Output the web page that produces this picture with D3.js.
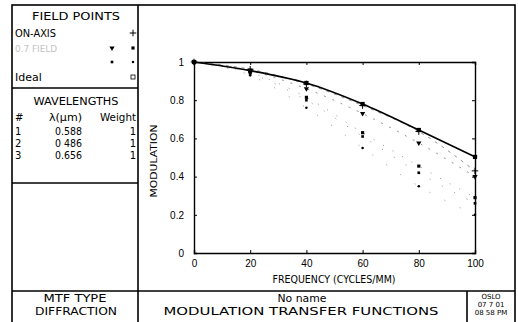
<!DOCTYPE html>
<html>
<head>
<meta charset="utf-8">
<script src="https://cdn.jsdelivr.net/npm/d3@7"></script>
<style>
  body { margin: 0; background: #fff; }
  svg { display: block; font-family: "DejaVu Sans", "Liberation Sans", sans-serif; }
  .frame { fill: none; stroke: #000; stroke-width: 1.6; }
</style>
</head>
<body>
<div id="chart"></div>
<script>
// frequency samples (cycles/mm)
const frequencies = [0, 20, 40, 60, 80, 100]
const xTicks = [0, 20, 40, 60, 80, 100]
const yTicks = [0, 0.2, 0.4, 0.6, 0.8, 1]

// MTF values
const idealMtf = [1, 0.955, 0.89, 0.78, 0.644, 0.503]
const onAxisMtf = [1, 0.962, 0.885, 0.772, 0.636, 0.43]
const field2TanMtf = [1, 0.955, 0.86, 0.73, 0.576, 0.40]
const field2SagMtf = [1, 0.945, 0.815, 0.63, 0.455, 0.29]
const field3TanMtf = [1, 0.94, 0.80, 0.61, 0.42, 0.26]
const field3SagMtf = [1, 0.93, 0.76, 0.55, 0.35, 0.20]

// legend / info panel texts
const fieldLabels = ['ON-AXIS', '0.7 FIELD', '', 'Ideal']
const waveIds = ['1', '2', '3']
const waveLengths = ['0.588', '0 486', '0.656']
const waveWeights = ['1', '1', '1']

const W = 518, H = 322
const svg = d3.select('#chart').append('svg')
  .attr('width', W)
  .attr('height', H)
svg.append('rect').attr('width', W).attr('height', H).attr('fill', '#fff')

// helper: text stretched to the width measured on the reference
function label(g, xPos, yPos, txt, size, len, anchor) {
  const t = g.append('text').attr('x', xPos).attr('y', yPos)
    .attr('font-size', size).attr('text-anchor', anchor || 'start').text(txt)
  if (len) t.attr('textLength', len).attr('lengthAdjust', 'spacingAndGlyphs')
  return t
}

// --- frames ---
const frame = svg.append('g').attr('class', 'frame')
frame.append('rect').attr('x', 12).attr('y', 5).attr('width', 503).attr('height', 320)
frame.append('line').attr('x1', 138).attr('y1', 5).attr('x2', 138).attr('y2', 322)
frame.append('line').attr('x1', 12).attr('y1', 88).attr('x2', 138).attr('y2', 88)
frame.append('line').attr('x1', 12).attr('y1', 183).attr('x2', 138).attr('y2', 183)
frame.append('line').attr('x1', 12).attr('y1', 291).attr('x2', 515).attr('y2', 291)
frame.append('line').attr('x1', 467).attr('y1', 291).attr('x2', 467).attr('y2', 322)

// --- field points legend ---
const leg = svg.append('g')
label(leg, 76, 20, 'FIELD POINTS', 11, 88, 'middle')
const rowY = [37, 52, 66, 81]
const rowLen = [41, 42, 0, 0]
fieldLabels.forEach((t, i) => {
  if (!t) return
  label(leg, 15, rowY[i], t, i === 1 ? 8 : 11, rowLen[i])
    .attr('fill', i === 1 ? '#c4c4c4' : '#000')
})

// --- plot ---
const x = d3.scaleLinear().domain([0, 100]).range([194, 475])
const y = d3.scaleLinear().domain([0, 1]).range([253, 62])

const symbols = {
  plus: d3.symbol().type(d3.symbolPlus).size(16),
  tri: d3.symbol().type(d3.symbolTriangle).size(12),
  sq: d3.symbol().type(d3.symbolSquare).size(10),
  sqs: d3.symbol().type(d3.symbolSquare).size(7),
  dot: d3.symbol().type(d3.symbolCircle).size(5),
  ideal: d3.symbol().type(d3.symbolSquare).size(18)
}

const series = [
  { vals: onAxisMtf, sym: 'plus', dash: '3,5', rot: 0 },
  { vals: field2TanMtf, sym: 'tri', dash: '2,7', rot: 180 },
  { vals: field2SagMtf, sym: 'sq', dash: '1,10', rot: 0 },
  { vals: field3TanMtf, sym: 'sqs', dash: '1,13', rot: 0 },
  { vals: field3SagMtf, sym: 'dot', dash: '1,16', rot: 0 }
]

function drawMark(g, s, px, py, rot) {
  const p = g.append('path').attr('d', symbols[s]())
    .attr('transform', `translate(${px},${py}) rotate(${rot})`)
  if (s === 'plus') p.attr('fill', 'none').attr('stroke', '#000').attr('stroke-width', 1)
  else p.attr('fill', '#000')
}

// legend markers
const legMarks = [[null, 'plus'], ['tri', 'sq'], ['sqs', 'dot']]
legMarks.forEach((pair, i) => {
  pair.forEach((s, j) => {
    if (s) drawMark(leg, s, j === 0 ? 112 : 133, rowY[i] - 4, s === 'tri' ? 180 : 0)
  })
})
leg.append('rect').attr('x', 131).attr('y', rowY[3] - 6).attr('width', 4).attr('height', 4)
  .attr('fill', 'none').attr('stroke', '#000').attr('stroke-width', 0.8)

// axes
const axL = svg.append('g').attr('transform', 'translate(194,0)')
  .call(d3.axisLeft(y).tickValues(yTicks).tickSize(-3).tickPadding(10).tickFormat(d3.format('~g')))
const axB = svg.append('g').attr('transform', 'translate(0,253)')
  .call(d3.axisBottom(x).tickValues(xTicks).tickSize(-3).tickPadding(7))
const axT = svg.append('g').attr('transform', 'translate(0,62)')
  .call(d3.axisTop(x).tickValues(xTicks).tickSize(-3).tickFormat(''))
const axR = svg.append('g').attr('transform', 'translate(475,0)')
  .call(d3.axisRight(y).tickValues(yTicks).tickSize(-3).tickFormat(''))
;[axL, axB, axT, axR].forEach(g => {
  g.select('.domain').attr('stroke-width', 1.4)
  g.selectAll('text').attr('font-size', 10).attr('font-family', null)
})

// dashed aberrated curves
const line = d3.line().x((d, i) => x(frequencies[i])).y(d => y(d)).curve(d3.curveMonotoneX)
series.forEach(s => {
  svg.append('path').attr('d', line(s.vals))
    .attr('fill', 'none').attr('stroke', '#666').attr('stroke-width', 0.7)
    .attr('stroke-dasharray', s.dash)
})

// ideal (diffraction limit) curve
svg.append('path').attr('d', line(idealMtf))
  .attr('fill', 'none').attr('stroke', '#000').attr('stroke-width', 1.7)

series.forEach(s => {
  const g = svg.append('g')
  s.vals.forEach((v, i) => drawMark(g, s.sym, x(frequencies[i]), y(v), s.rot))
})
svg.append('g').selectAll('path').data(idealMtf).join('path')
  .attr('d', symbols.ideal())
  .attr('transform', (d, i) => `translate(${x(frequencies[i])},${y(d)})`)
  .attr('fill', '#000')

// axis titles
label(svg, 334, 283, 'FREQUENCY (CYCLES/MM)', 10, 123, 'middle')
label(svg, 0, 0, 'MODULATION', 9, 73, 'middle')
  .attr('transform', 'translate(157,161) rotate(-90)')

// --- wavelengths ---
const wl = svg.append('g')
label(wl, 76, 105, 'WAVELENGTHS', 11, 85, 'middle')
label(wl, 15, 121, '#', 10)
label(wl, 49, 121, 'λ(μm)', 10, 33)
label(wl, 136, 121, 'Weight', 10, 36, 'end')
const wy = [135, 147, 159]
waveIds.forEach((id, i) => {
  label(wl, 15, wy[i], id, 10)
  label(wl, 55, wy[i], waveLengths[i], 10, 27)
  label(wl, 136, wy[i], waveWeights[i], 10, 0, 'end')
})

// --- bottom info ---
const bt = svg.append('g')
label(bt, 75, 302, 'MTF TYPE', 11, 63, 'middle')
label(bt, 76, 315, 'DIFFRACTION', 11, 82, 'middle')
label(bt, 302, 302, 'No name', 11, 49, 'middle')
label(bt, 301, 315, 'MODULATION TRANSFER FUNCTIONS', 11, 275, 'middle')
const dt = svg.append('g')
label(dt, 491, 299, 'OSLO', 7, 0, 'middle')
label(dt, 491, 307, '07 7 01', 7, 0, 'middle')
label(dt, 491, 315, '08 58 PM', 7, 0, 'middle')
</script>
</body>
</html>
